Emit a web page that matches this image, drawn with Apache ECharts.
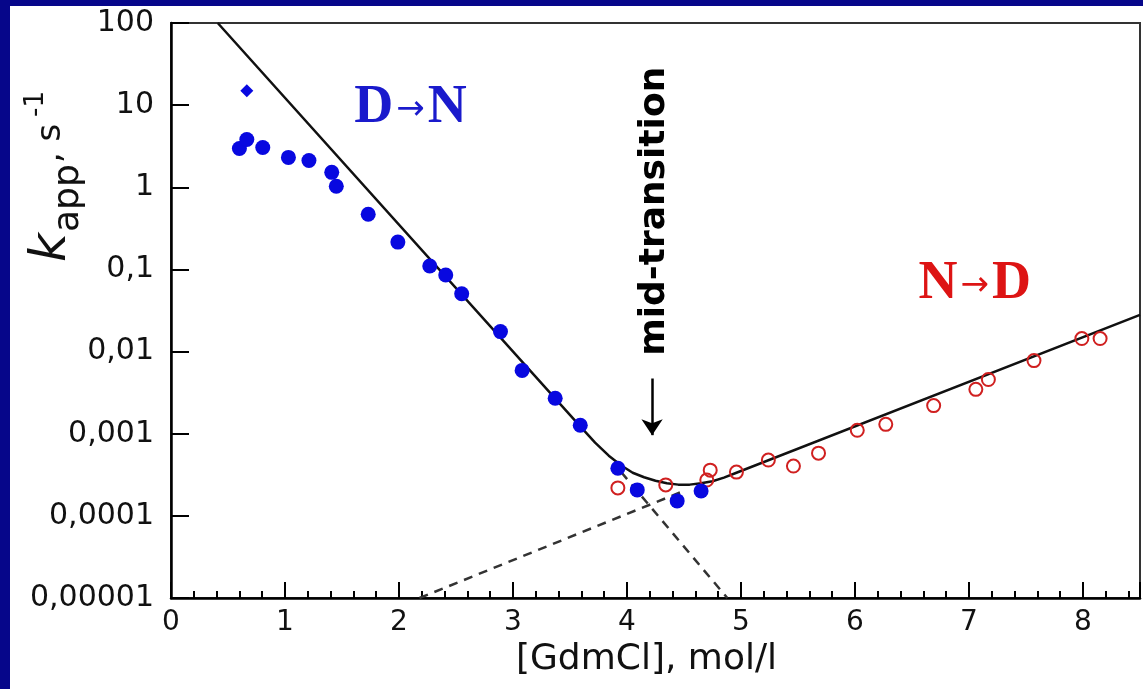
<!DOCTYPE html>
<html><head><meta charset="utf-8">
<script src="https://cdn.jsdelivr.net/npm/echarts@6/dist/echarts.min.js"></script>
<style>
html,body{margin:0;padding:0;background:#06068a;width:1143px;height:689px;overflow:hidden}
#panel{position:absolute;left:10px;top:6px;width:1133px;height:683px;background:#fff}
#chart{position:absolute;left:0;top:0;width:1143px;height:689px}
</style></head><body>
<div id="panel"></div><div id="chart"></div>
<script>
// ---- data ----
const xTickLabels = ['0','1','2','3','4','5','6','7','8'];
const yTickLabels = ['0,00001','0,0001','0,001','0,01','0,1','1','10','100'];

// D -> N (refolding), filled blue circles
const refoldX = [0.60, 0.665, 0.805, 1.03, 1.21, 1.41, 1.45, 1.73, 1.99, 2.27, 2.41, 2.55, 2.89, 3.08, 3.37, 3.59, 3.92, 4.09, 4.44, 4.65];
const refoldY = [2.97, 3.82, 3.05, 2.31, 2.12, 1.52, 1.03, 0.47, 0.215, 0.110, 0.0857, 0.0505, 0.0175, 0.0059, 0.0027, 0.00127, 0.00038, 0.000207, 0.000152, 0.000201];
// small separate point
const extraX = [0.665];
const extraY = [15];

// N -> D (unfolding), open red circles
const unfoldX = [3.92, 4.34, 4.70, 4.73, 4.96, 5.24, 5.46, 5.68, 6.02, 6.27, 6.69, 7.06, 7.17, 7.57, 7.99, 8.15];
const unfoldY = [0.000219, 0.000238, 0.000273, 0.00036, 0.000341, 0.000478, 0.000404, 0.00058, 0.0011, 0.0013, 0.0022, 0.00347, 0.00457, 0.00776, 0.0144, 0.0144];

// fitted chevron curve (solid)
const fitX = [0.41, 3.58, 3.72, 3.84, 3.95, 4.05, 4.15, 4.25, 4.35, 4.45, 4.55, 4.65, 4.75, 4.85, 4.96, 8.5];
const fitY = [100, 0.00127, 0.00078, 0.00054, 0.00041, 0.000335, 0.000295, 0.000268, 0.000250, 0.000240, 0.000240, 0.000249, 0.000264, 0.000292, 0.000335, 0.028];

// extrapolated limbs (dashed)
const foldLimbX = [3.95, 4.88];
const foldLimbY = [0.00034, 0.00001];
const unfoldLimbX = [2.18, 4.52];
const unfoldLimbY = [0.00001, 0.000207];

// annotations
const midX = 4.22;
const arrowY = [0.0047, 0.00096];
const labelDN = {x: 2.10, y: 9.3, text: ['D', '→', 'N']};
const labelND = {x: 7.05, y: 0.0667, text: ['N', '→', 'D']};
const labelMid = {x: 4.24, y: 0.51, text: 'mid-transition'};

const zip = (a, b) => a.map((v, i) => [v, b[i]]);

const chart = echarts.init(document.getElementById('chart'), null, {renderer: 'canvas'});
const font = 'DejaVu Sans';
const option = {
  animation: false,
  backgroundColor: 'transparent',
  grid: {left: 171, right: 1, top: 23, bottom: 91, show: true, borderColor: '#333', borderWidth: 2},
  xAxis: {
    type: 'value', min: 0, max: 8.5, interval: 1,
    axisLine: {show: true, onZero: false, lineStyle: {color: '#000', width: 2.5}},
    axisTick: {show: true, inside: true, length: 16, lineStyle: {color: '#000', width: 2}},
    minorTick: {show: true, splitNumber: 5, length: 7, lineStyle: {color: '#000', width: 2}},
    splitLine: {show: false},
    axisLabel: {
      margin: 11, color: '#111', fontFamily: font, fontSize: 28,
      formatter: v => (Math.abs(v - Math.round(v)) < 1e-9 && xTickLabels[Math.round(v)] !== undefined) ? xTickLabels[Math.round(v)] : ''
    },
    name: '[GdmCl], mol/l', nameLocation: 'middle', nameGap: 38,
    nameTextStyle: {color: '#111', fontFamily: font, fontSize: 36, padding: [0, 18, 0, 0]}
  },
  yAxis: {
    type: 'log', logBase: 10, min: 0.00001, max: 100, interval: 1,
    axisLine: {show: true, lineStyle: {color: '#000', width: 2.5}},
    axisTick: {show: true, inside: true, length: 18, lineStyle: {color: '#000', width: 2}},
    minorTick: {show: false},
    splitLine: {show: false},
    axisLabel: {
      margin: 17, color: '#111', fontFamily: font, fontSize: 30,
      formatter: v => yTickLabels[Math.round(Math.log10(v)) + 5] || ''
    }
  },
  series: [
    {type: 'line', data: zip(unfoldLimbX, unfoldLimbY), showSymbol: false, symbol: 'none',
     lineStyle: {color: '#333', width: 2.5, type: [9, 7]}, z: 1},
    {type: 'line', data: zip(foldLimbX, foldLimbY), showSymbol: false, symbol: 'none',
     lineStyle: {color: '#333', width: 2.5, type: [9, 7]}, z: 1},
    {type: 'line', data: zip(fitX, fitY), showSymbol: false, symbol: 'none', smooth: false,
     lineStyle: {color: '#111', width: 2.5, join: 'round'}, z: 2,
     markLine: {
       silent: true, symbol: ['none', 'arrow'], symbolSize: 16, label: {show: false},
       lineStyle: {color: '#000', width: 2.5, type: 'solid'},
       data: [[{coord: [midX, arrowY[0]]}, {coord: [midX, arrowY[1]]}]]
     }},
    {type: 'scatter', data: zip(unfoldX, unfoldY), symbol: 'circle', symbolSize: 13,
     itemStyle: {color: 'rgba(0,0,0,0)', borderColor: '#d02020', borderWidth: 2, opacity: 1}, z: 3},
    {type: 'scatter', data: zip(refoldX, refoldY), symbol: 'circle', symbolSize: 15,
     itemStyle: {color: '#0808e0', opacity: 1}, z: 4},
    {type: 'scatter', data: zip(extraX, extraY), symbol: 'diamond', symbolSize: 13,
     itemStyle: {color: '#0808e0', opacity: 1}, z: 4}
  ]
};
chart.setOption(option);

const px = (x, y) => chart.convertToPixel({gridIndex: 0}, [x, y]);
const pDN = px(labelDN.x, labelDN.y);
const pND = px(labelND.x, labelND.y);
const pMid = px(labelMid.x, labelMid.y);
const serif = {fontFamily: 'Liberation Serif', fontWeight: 'bold', fontSize: 54};
const arr = {fontFamily: 'DejaVu Sans', fontSize: 34, padding: [4, 3, 0, 3]};
function arrowLabel(p, t, color) {
  return {type: 'text', x: p[0], y: p[1], z: 10,
    style: {text: '{b|' + t[0] + '}{a|' + t[1] + '}{b|' + t[2] + '}', align: 'center', verticalAlign: 'middle', fill: color,
      rich: {b: Object.assign({fill: color}, serif), a: Object.assign({fill: color}, arr)}}};
}
chart.setOption({
  graphic: [
    arrowLabel(pDN, labelDN.text, '#1a1acc'),
    arrowLabel(pND, labelND.text, '#dd1414'),
    {type: 'text', x: pMid[0], y: pMid[1], rotation: Math.PI / 2, z: 10,
     style: {text: labelMid.text, align: 'center', verticalAlign: 'middle', fill: '#000',
       fontFamily: font, fontWeight: 'bold', fontSize: 36}},
    {type: 'group', x: 52, y: 262, rotation: Math.PI / 2, z: 10, children: [
      {type: 'text', x: 0, y: 0, style: {text: 'k', align: 'left', verticalAlign: 'middle', fill: '#111',
        fontFamily: font, fontStyle: 'italic', fontSize: 50}},
      {type: 'text', x: 30, y: 17, style: {text: 'app', align: 'left', verticalAlign: 'middle', fill: '#111',
        fontFamily: font, fontSize: 36}},
      {type: 'text', x: 99, y: -1, style: {text: ', s', align: 'left', verticalAlign: 'middle', fill: '#111',
        fontFamily: font, fontSize: 34}},
      {type: 'text', x: 145, y: -16, style: {text: '-1', align: 'left', verticalAlign: 'middle', fill: '#111',
        fontFamily: font, fontSize: 26}}
    ]}
  ]
});
</script>
</body></html>
